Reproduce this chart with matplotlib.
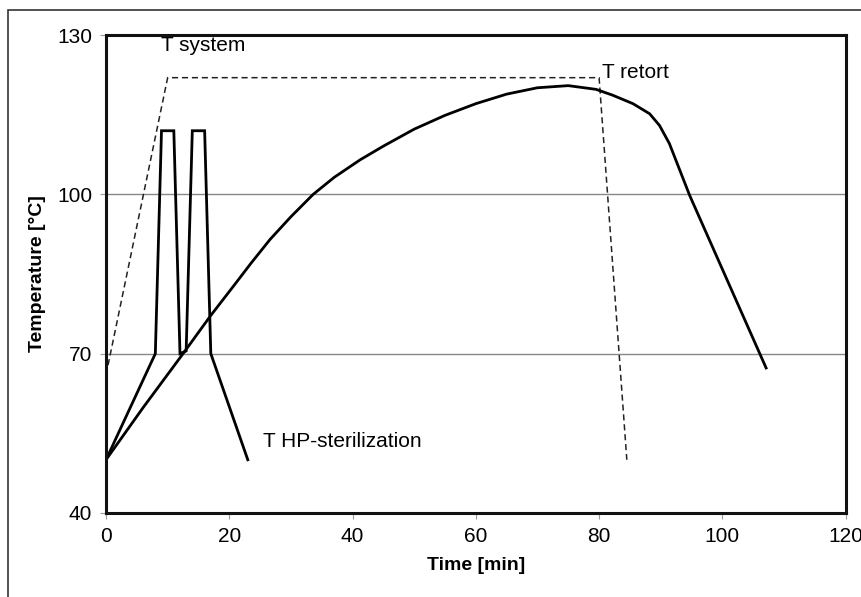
import matplotlib.pyplot as plt
from matplotlib.patches import Rectangle

plt.rcParams['font.family'] = ['Liberation Sans', 'DejaVu Sans']

# T system (dashed)
sys_time = [0, 10, 80, 84.5]
sys_temp = [66, 122, 122, 50]

# T HP-sterilization
hp_time = [0, 8, 9, 11, 12, 13, 14, 16, 17, 23]
hp_temp = [50, 70, 112, 112, 70, 70.5, 112, 112, 70, 50]

# T retort
ret_time = [0, 6, 12.5, 17, 20.6, 23.5, 26.6, 30, 33.6, 37, 41.2, 45, 50, 55, 60, 65, 70, 75,
            79.5, 82.2, 85.5, 88.2, 89.8, 91.4, 94.7, 107.1]
ret_temp = [50, 59.8, 70, 77.2, 82.6, 87, 91.5, 95.8, 100, 103.2, 106.5, 109.1, 112.3, 114.9, 117.1, 118.9, 120.1, 120.5,
            119.8, 118.7, 117.1, 115.2, 113, 109.6, 99.8, 67.3]

fig = plt.figure(figsize=(8.62, 5.97), dpi=100)
ax = fig.add_axes([0.123, 0.141, 0.858, 0.8])

# outer frame (partly cut off in the original)
fig.patches.append(Rectangle((8 / 862, -0.1), 1.2, 1 - 10 / 597 + 0.1, transform=fig.transFigure,
                             fill=False, edgecolor='#333333', linewidth=1.2))

ax.plot(sys_time, sys_temp, color='#222222', linestyle=(0, (4, 2.5)), linewidth=1.1)
ax.plot(hp_time, hp_temp, color='black', linewidth=2.0, solid_joinstyle='miter')
ax.plot(ret_time, ret_temp, color='black', linewidth=2.0, solid_joinstyle='round')

for yv in [70, 100]:
    ax.axhline(yv, color='#888888', linewidth=1.0, zorder=0)

ax.set_xlim(0, 120)
ax.set_ylim(40, 130)
ax.set_xticks([0, 20, 40, 60, 80, 100, 120])
ax.set_yticks([40, 70, 100, 130])
ax.tick_params(direction='out', length=4, width=0.8, color='#999999', labelsize=15, pad=6)
for s in ax.spines.values():
    s.set_linewidth(2.2)
    s.set_color('#111111')

ax.set_xlabel('Time [min]', fontsize=14, fontweight='bold', labelpad=8)
ax.set_ylabel('Temperature [°C]', fontsize=14, fontweight='bold', labelpad=8)

ax.text(9, 128, 'T system', fontsize=15, va='center')
ax.text(80.5, 123, 'T retort', fontsize=15, va='center')
ax.text(25.5, 53.5, 'T HP-sterilization', fontsize=15, va='center')

fig.savefig('out.png', dpi=100)
